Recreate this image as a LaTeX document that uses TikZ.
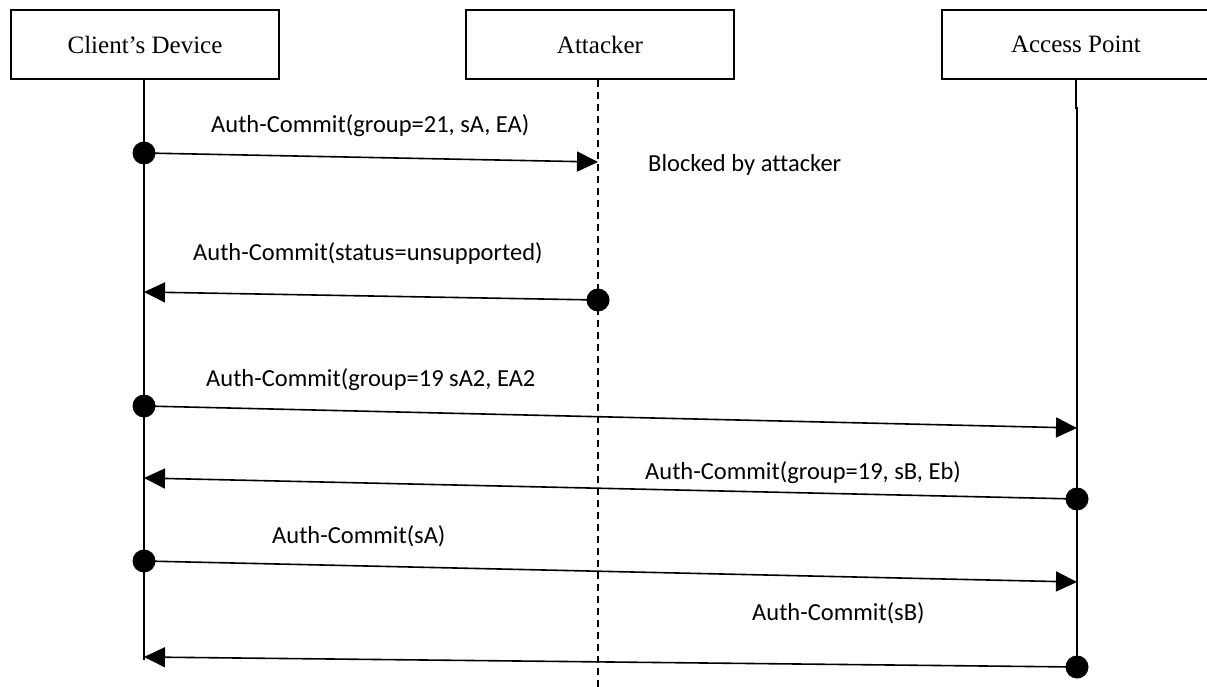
\documentclass[tikz,border=0pt]{standalone}
\usepackage{fontspec}
\setmainfont{Liberation Serif}
\newfontfamily\lblfont[Ligatures=NoCommon]{Carlito}
\usetikzlibrary{arrows.meta}
\begin{document}
\begin{tikzpicture}[x=1pt,y=-1pt,
  actor/.style={draw,line width=1.6pt,minimum height=69pt,minimum width=268pt,inner sep=0pt,font=\fontsize{25}{30}\selectfont},
  life/.style={line width=1.6pt},
  msg/.style={line width=1.6pt,-{Triangle[length=21pt,width=20pt]}},
  dot/.style={circle,fill=black,inner sep=0pt,minimum size=23pt},
  lbl/.style={anchor=base west,inner sep=0pt,font=\lblfont\fontsize{24.5}{29}\selectfont}]
\useasboundingbox (0,0) rectangle (1207,687);
% actors
\node[actor] (client) at (145,44.5) {Client’s Device};
\node[actor] (attacker) at (600,44.5) {Attacker};
\node[actor] (ap) at (1076,44.5) {Access Point};
% lifeline ends
\coordinate (cEnd) at (144,660);
\coordinate (aEnd) at (598,687);
\coordinate (pEnd) at (1077,668);
\draw[life] (client.south -| cEnd) -- (cEnd);
\draw[life,dashed,dash pattern=on 7pt off 5pt] (attacker.south -| aEnd) -- (aEnd);
\draw[life] (ap.south -| 1076,0) -- (1076,108) -- (1077,108) -- (pEnd);
% message endpoints
\node[dot] (d1) at (144,153) {};
\coordinate (a1) at (598,162);
\node[dot] (d2) at (598,300) {};
\coordinate (a2) at (144,292);
\node[dot] (d3) at (144,406) {};
\coordinate (a3) at (1077,428);
\node[dot] (d4) at (1077,499) {};
\coordinate (a4) at (144,478);
\node[dot] (d5) at (144,561) {};
\coordinate (a5) at (1077,582);
\node[dot] (d6) at (1077,667) {};
\coordinate (a6) at (144,657);
% messages
\draw[msg] (d1.center) -- (a1);
\draw[msg] (d2.center) -- (a2);
\draw[msg] (d3.center) -- (a3);
\draw[msg] (d4.center) -- (a4);
\draw[msg] (d5.center) -- (a5);
\draw[msg] (d6.center) -- (a6);
% labels
\node[lbl] (l1) at (211,133) {Auth-Commit(group=21, sA, EA)};
\node[lbl] (l2) at (648,172) {Blocked by attacker};
\node[lbl] (l3) at (193,260) {Auth-Commit(status=unsupported)};
\node[lbl] (l4) at (206,386) {Auth-Commit(group=19 sA2, EA2};
\node[lbl] (l5) at (645,479) {Auth-Commit(group=19, sB, Eb)};
\node[lbl] (l6) at (272,543) {Auth-Commit(sA)};
\node[lbl] (l7) at (752,620) {Auth-Commit(sB)};
\end{tikzpicture}
\end{document}
